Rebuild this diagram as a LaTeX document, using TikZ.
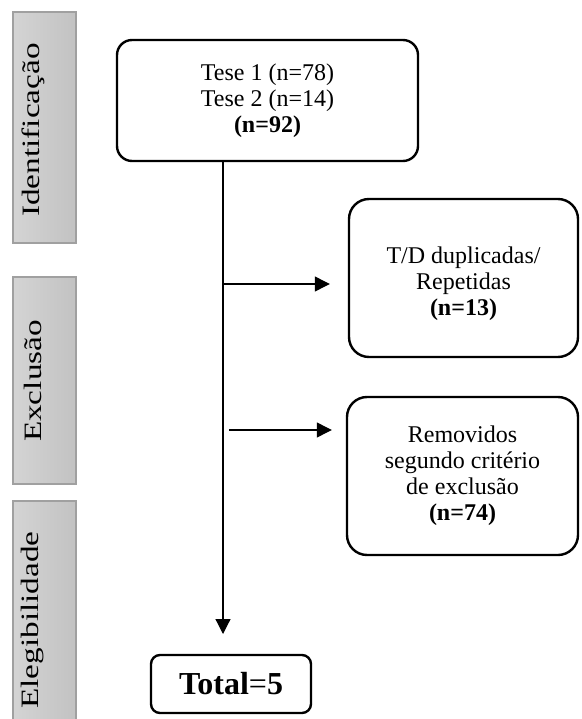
\documentclass[tikz,border=0pt]{standalone}
\usepackage{fontspec}
\setmainfont{Liberation Serif}
\usetikzlibrary{arrows.meta,positioning}
\definecolor{barlight}{RGB}{212,212,212}
\definecolor{bardark}{RGB}{194,194,194}
\definecolor{baredge}{RGB}{160,160,160}
\tikzset{
  phase/.style={draw=baredge, line width=1.5pt, left color=barlight, right color=bardark},
  phaselabel/.style={rotate=90, inner sep=0pt, font=\fontsize{25}{25}\selectfont},
  stagebox/.style={draw, line width=2.4pt, align=center, inner sep=0pt, font=\fontsize{24}{26}\selectfont},
  flow/.style={line width=1.2pt, -{Triangle[length=15pt,width=15pt]}}
}
\begin{document}
\begin{tikzpicture}[x=1pt,y=-1pt]
    \useasboundingbox (0,0) rectangle (581,719);
    % Phase bars on the left
    \draw[phase] (13,12) rectangle (76,243);
    \draw[phase] (13,277) rectangle (76,484);
    \draw[phase] (13,501) rectangle (76,740);
    \node[phaselabel] (idlab) at (33,130) {\scalebox{1.33}[1]{Identificação}};
    \node[phaselabel] (exlab) at (33,381) {\scalebox{1.33}[1]{Exclusão}};
    \node[phaselabel] (ellab) at (33,620) {\scalebox{1.33}[1]{Elegibilidade}};
    % Boxes
    \node[stagebox, rounded corners=15pt, minimum width=301pt, minimum height=121pt] (teses) at (267.5,100.5)
        {Tese 1 (n=78)\\Tese 2 (n=14)\\\textbf{(n=92)}};
    \node[stagebox, rounded corners=20pt, minimum width=229pt, minimum height=158pt,
          text height=80pt] (dup) at (463.5,278)
        {T/D duplicadas/\\Repetidas\\\textbf{(n=13)}};
    \node[stagebox, rounded corners=20pt, minimum width=231pt, minimum height=158pt] (excl) at (462.5,476)
        {Removidos\\segundo critério\\de exclusão\\\textbf{(n=74)}};
    \node[stagebox, rounded corners=9pt, minimum width=160pt, minimum height=58pt,
          font=\fontsize{32}{32}\selectfont] (total) at (231,684) {\textbf{Total}=\textbf{5}};
    % Flow lines
    \coordinate (trunkEnd) at (223,634);
    \coordinate (split1) at (223,284);
    \coordinate (split2) at (229,430);
    \draw[flow] (teses.south -| trunkEnd) -- (trunkEnd);
    \draw[flow, shorten >=18pt] (split1) -- (split1 -| dup.west);
    \draw[flow, shorten >=14pt] (split2) -- (split2 -| excl.west);
\end{tikzpicture}
\end{document}
